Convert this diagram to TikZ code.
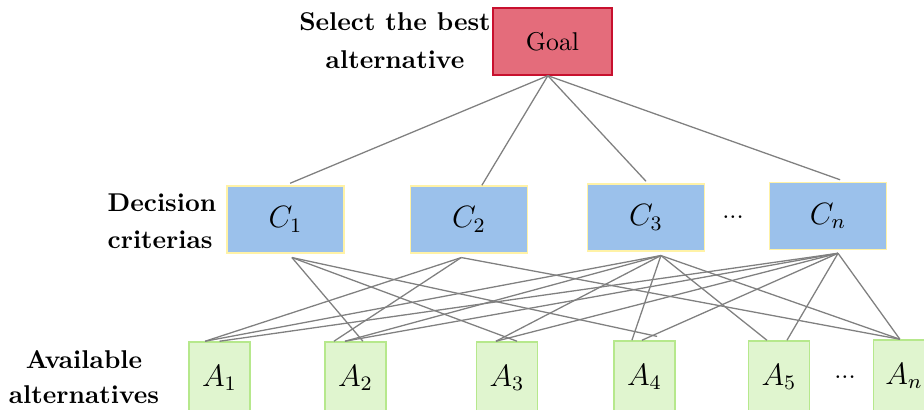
\documentclass[tikz,border=0pt]{standalone}
\usepackage{xcolor}
\definecolor{goalred}{HTML}{E46C7B}
\definecolor{goalline}{HTML}{C8102E}
\definecolor{critblue}{HTML}{9BC1EB}
\definecolor{critline}{HTML}{FFF2A6}
\definecolor{altgreen}{HTML}{E0F5CF}
\definecolor{altline}{HTML}{B6E88C}
\definecolor{edgegray}{HTML}{808080}
\begin{document}
\begin{tikzpicture}[x=0.389pt,y=-0.389pt,
    goalbox/.style={rectangle,draw=goalline,fill=goalred,line width=0.6pt,
      minimum width=46.3pt,minimum height=26pt,inner sep=0pt},
    critbox/.style={rectangle,draw=critline,fill=critblue,line width=0.6pt,
      minimum width=45.6pt,minimum height=26pt,inner sep=0pt,font=\large},
    altbox/.style={rectangle,draw=altline,fill=altgreen,line width=0.6pt,
      minimum width=23.7pt,minimum height=28pt,inner sep=0pt,font=\large},
    lbl/.style={font=\bfseries,align=center,inner sep=0pt},
    edge/.style={draw=edgegray,line width=0.5pt}]
    \useasboundingbox (0,0) rectangle (924,409);
        % levels
        \node at (552.5,41.5) [goalbox] (goal) {Goal};
        \node at (285.5,219.5) [critbox] (c1) {$C_1$};
        \node at (469,219.5) [critbox] (c2) {$C_2$};
        \node at (646,217.5) [critbox] (c3) {$C_3$};
        \node at (828,216) [critbox] (cn) {$C_n$};
        \node at (219.5,378) [altbox] (a1) {$A_1$};
        \node at (355.5,378) [altbox] (a2) {$A_2$};
        \node at (507,378) [altbox] (a3) {$A_3$};
        \node at (644.5,377) [altbox] (a4) {$A_4$};
        \node at (779,377) [altbox] (a5) {$A_5$};
        \node at (904,376) [altbox] (an) {$A_n$};
        \node at (733,217) (cdots) {...};
        \node at (845,377) (adots) {...};
        % side labels
        \node at (395,41) [lbl] (goaltxt) {Select the best\\[2.8pt]alternative};
        \node at (162,221) [lbl,align=left] (crittxt) {Decision\\[2.4pt]criterias};
        \node at (84,377) [lbl] (alttxt) {Available\\[1.5pt]alternatives};
        % line ends under the criteria
        \coordinate (g0) at ([xshift=-1.8pt]goal.south);
        \coordinate (c1b) at ([xshift=2.5pt,yshift=-1.5pt]c1.south);
        \coordinate (c2b) at ([xshift=-3pt,yshift=-1.5pt]c2.south);
        \coordinate (c3b) at ([xshift=5.8pt,yshift=-1.5pt]c3.south);
        \coordinate (cnb) at ([xshift=3.9pt,yshift=-1.2pt]cn.south);
        % goal to criteria
        \draw[edge] (g0) -- ([xshift=1.8pt,yshift=0.8pt]c1.north);
        \draw[edge] (g0) -- ([xshift=5pt]c2.north);
        \draw[edge] (g0) -- ([yshift=0.8pt]c3.north);
        \draw[edge] (g0) -- ([xshift=4.7pt,yshift=0.8pt]cn.north);
        % criteria to alternatives
        \draw[edge] (c1b) -- ([xshift=2.9pt]a2.north);
        \draw[edge] (c1b) -- ([xshift=3.9pt]a3.north);
        \draw[edge] (c1b) -- ([xshift=4.9pt,yshift=1.5pt]a4.north);
        \draw[edge] (c2b) -- ([xshift=-5.6pt]a1.north);
        \draw[edge] (c2b) -- ([xshift=-8.4pt]a2.north);
        \draw[edge] (c2b) -- ([xshift=-1.6pt]an.north);
        \draw[edge] (c3b) -- ([xshift=-5.6pt]a1.north);
        \draw[edge] (c3b) -- ([xshift=-4.1pt]a2.north);
        \draw[edge] (c3b) -- ([xshift=-4.3pt]a3.north);
        \draw[edge] (c3b) -- ([xshift=-4.9pt]a4.north);
        \draw[edge] (c3b) -- ([xshift=-4.7pt]a5.north);
        \draw[edge] (c3b) -- ([xshift=-1.6pt]an.north);
        \draw[edge] (cnb) -- (a1.north);
        \draw[edge] (cnb) -- ([xshift=-4.1pt]a2.north);
        \draw[edge] (cnb) -- ([xshift=-4.3pt]a3.north);
        \draw[edge] (cnb) -- ([xshift=-1pt]a4.north);
        \draw[edge] (cnb) -- ([xshift=3.1pt]a5.north);
        \draw[edge] (cnb) -- ([xshift=-1.6pt]an.north);
\end{tikzpicture}
\end{document}
